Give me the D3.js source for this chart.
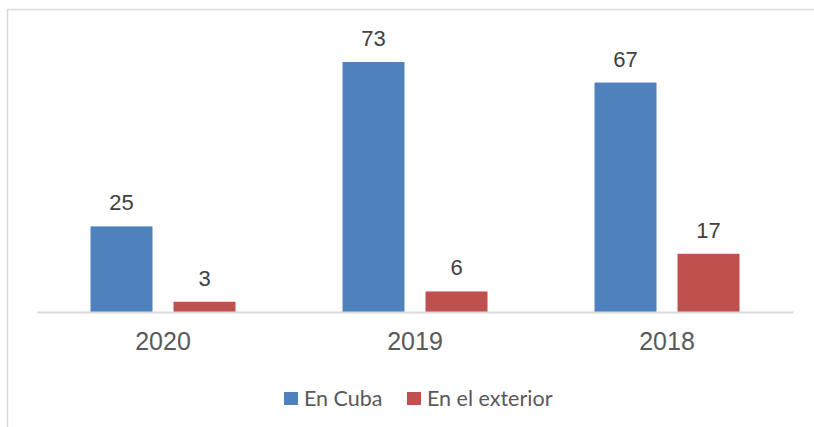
<!DOCTYPE html>
<html>
<head>
<meta charset="utf-8">
<script src="https://cdn.jsdelivr.net/npm/d3@7"></script>
<style>
  body { margin: 0; background: #fff; }
  svg { display: block; }
</style>
</head>
<body>
<div class="chart"></div>
<script>
'use strict';

// values
var years = ["2020", "2019", "2018"];
var seriesNames = ["En Cuba", "En el exterior"];
var enCuba = [25, 73, 67];
var enExterior = [3, 6, 17];
var colors = ["#4f81bd", "#c0504d"];

var width = 814,
    height = 427;

var rows = years.map(function (y, i) {
  return { year: y, values: [enCuba[i], enExterior[i]] };
});

var svg = d3.select(".chart").append("svg")
    .attr("width", width)
    .attr("height", height);

// outer frame (only top and left visible)
svg.append("path")
    .attr("d", "M7.5,427V9.5H814")
    .attr("fill", "none")
    .attr("stroke", "#d9d9d9")
    .attr("stroke-width", 1.5);

var x0 = d3.scaleBand()
    .domain(years)
    .range([37, 793]);

// two bars of 62px with a 21px gap, centred in each band
var x1 = d3.scaleBand()
    .domain(seriesNames)
    .range([x0.bandwidth() / 2 - 72.5, x0.bandwidth() / 2 + 72.5])
    .paddingInner(21 / 83);

var y = d3.scaleLinear()
    .domain([0, 73])
    .range([312, 62]);

var groups = svg.selectAll(".group")
    .data(rows)
    .enter().append("g")
    .attr("class", "group")
    .attr("transform", function (d) { return "translate(" + x0(d.year) + ",0)"; });

var bars = groups.selectAll("g.bar")
    .data(function (d) {
      return d.values.map(function (v, i) { return { name: seriesNames[i], value: v, i: i }; });
    })
    .enter().append("g")
    .attr("class", "bar");

bars.append("rect")
    .attr("x", function (d) { return x1(d.name); })
    .attr("width", x1.bandwidth())
    .attr("y", function (d) { return y(d.value); })
    .attr("height", function (d) { return y(0) - y(d.value); })
    .attr("fill", function (d) { return colors[d.i]; });

bars.append("text")
    .attr("x", function (d) { return x1(d.name) + x1.bandwidth() / 2; })
    .attr("y", function (d) { return y(d.value) - 16; })
    .attr("text-anchor", "middle")
    .attr("font-family", "Liberation Sans, Arial, sans-serif")
    .attr("font-size", 22)
    .attr("fill", "#404040")
    .text(function (d) { return d.value; });

// category axis
var xAxis = svg.append("g")
    .attr("transform", "translate(0,312)")
    .call(d3.axisBottom(x0).tickSize(0).tickPadding(20));
xAxis.select(".domain")
    .attr("stroke", "#d9d9d9")
    .attr("stroke-width", 2);
xAxis.selectAll("text")
    .attr("font-family", "Liberation Sans, Arial, sans-serif")
    .attr("font-size", 25)
    .attr("fill", "#595959");

// legend
var legend = svg.append("g")
    .attr("transform", "translate(284,392)");
var legendX = [0, 123];
var items = legend.selectAll(".item")
    .data(seriesNames)
    .enter().append("g")
    .attr("class", "item")
    .attr("transform", function (d, i) { return "translate(" + legendX[i] + ",0)"; });
items.append("rect")
    .attr("width", 14)
    .attr("height", 13)
    .attr("fill", function (d, i) { return colors[i]; });
items.append("text")
    .attr("x", 20)
    .attr("y", 13.5)
    .attr("font-family", "Lato, Carlito, Calibri, sans-serif")
    .attr("font-size", 21.5)
    .attr("fill", "#595959")
    .text(function (d) { return d; });
</script>
</body>
</html>
